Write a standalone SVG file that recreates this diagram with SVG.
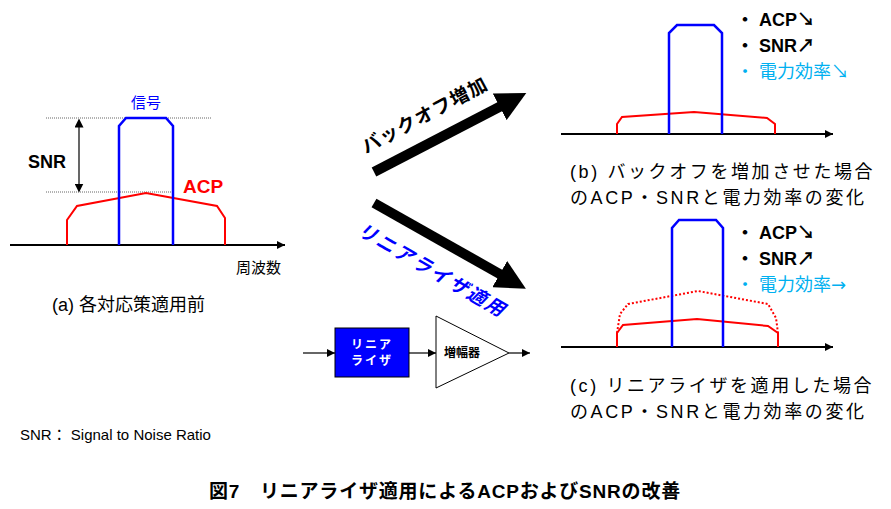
<svg xmlns="http://www.w3.org/2000/svg" width="891" height="509" viewBox="0 0 891 509">
<defs>
<marker id="ah" viewBox="0 0 10 10" refX="10" refY="5" markerWidth="8" markerHeight="8" markerUnits="userSpaceOnUse" orient="auto"><path d="M0,0L10,5L0,10z" fill="#000"/></marker>
<marker id="ah2" viewBox="0 0 10 10" refX="5" refY="5" markerWidth="9" markerHeight="9" markerUnits="userSpaceOnUse" orient="auto-start-reverse"><path d="M0,0L10,5L0,10z" fill="#000"/></marker>
<marker id="big" viewBox="0 0 10 10" refX="2" refY="5" markerWidth="30" markerHeight="30" markerUnits="userSpaceOnUse" orient="auto"><path d="M0,0L10,5L0,10z" fill="#000"/></marker>
</defs>
<style>
text{font-family:"Liberation Sans","Noto Sans CJK JP",sans-serif;}
.ax{stroke:#000;stroke-width:2;fill:none}
.sig{stroke:#0000ff;stroke-width:2.5;fill:none}
.acp{stroke:#ff0000;stroke-width:2;fill:none}
.b{font-weight:bold}
.t{font-size:18px}
.cap{font-size:18px;fill:#000;letter-spacing:2.6px}
.cy{fill:#00b0f0}
</style>
<rect width="891" height="509" fill="#fff"/>
<g id="panel-a">
<line x1="10" y1="245" x2="285" y2="245" class="ax" marker-end="url(#ah)"/>
<line x1="46" y1="118" x2="212" y2="118" stroke="#666" stroke-width="1" stroke-dasharray="1,1"/>
<line x1="46" y1="192" x2="173" y2="192" stroke="#666" stroke-width="1" stroke-dasharray="1,1"/>
<line x1="79" y1="123" x2="79" y2="188" stroke="#000" stroke-width="1.2" marker-start="url(#ah2)" marker-end="url(#ah2)"/>
<polyline class="acp" points="67,245 67,220 77,206 146,193 217,206 225,218 225,245"/>
<polyline class="sig" points="119,245 119,126 126,118 166,118 173,126 173,245"/>
<text x="28" y="168" class="t b">SNR</text>
<text x="183" y="193" class="b" font-size="19" fill="#ff0000">ACP</text>
<text x="146" y="108" font-size="15" fill="#0000ff" text-anchor="middle">信号</text>
<text x="236" y="273" font-size="15">周波数</text>
<text x="52" y="311" font-size="18">(a) 各対応策適用前</text>
</g>
<g id="panel-b">
<line x1="561" y1="134" x2="833" y2="134" class="ax" marker-end="url(#ah)"/>
<polyline class="acp" points="617,134 617,124 622,117 694,112 767,118 775,124 775,134"/>
<polyline class="sig" points="669,134 669,33 677,25 714,25 722,33 722,134"/>
<text x="736" y="26" class="t b">・ ACP↘</text>
<text x="736" y="52" class="t b">・ SNR↗</text>
<text x="736" y="78" class="t cy">・ 電力効率↘</text>
<text x="570" y="178" class="cap">(b) バックオフを増加させた場合</text>
<text x="570" y="204" class="cap">のACP・SNRと電力効率の変化</text>
</g>
<g id="panel-c">
<line x1="561" y1="347" x2="833" y2="347" class="ax" marker-end="url(#ah)"/>
<polyline points="617,333 620,314 628,304 698,291 768,304 776,318 778,333" stroke="#ff0000" stroke-width="2" stroke-dasharray="2,2" fill="none"/>
<polyline class="acp" points="617,347 617,333 623,325 697,319 768,326 778,333 778,347"/>
<polyline class="sig" points="672,347 672,228 679,220 716,220 723,228 723,347"/>
<text x="736" y="239" class="t b">・ ACP↘</text>
<text x="736" y="265" class="t b">・ SNR↗</text>
<text x="736" y="291" class="t cy">・ 電力効率<tspan font-family="DejaVu Sans">→</tspan></text>
<text x="570" y="392" class="cap">(c) リニアライザを適用した場合</text>
<text x="570" y="418" class="cap">のACP・SNRと電力効率の変化</text>
</g>
<g id="connectors">
<line x1="374" y1="172" x2="505" y2="104" stroke="#000" stroke-width="10" marker-end="url(#big)"/>
<line x1="374" y1="203" x2="505" y2="277" stroke="#000" stroke-width="10" marker-end="url(#big)"/>
<line x1="303" y1="353" x2="335" y2="353" stroke="#000" stroke-width="1.2" marker-end="url(#ah)"/>
<line x1="409" y1="353" x2="436" y2="353" stroke="#000" stroke-width="1.2" marker-end="url(#ah)"/>
<line x1="509" y1="353" x2="530" y2="353" stroke="#000" stroke-width="1.2" marker-end="url(#ah)"/>
</g>
<g id="label-backoff"><text transform="translate(366,154) rotate(-28)" font-size="19" class="b" letter-spacing="1">バックオフ増加</text></g>
<g id="label-linearizer"><text transform="translate(356,234) rotate(30)" font-size="19" class="b" fill="#0000ff" font-style="italic" letter-spacing="2">リニアライザ適用</text></g>
<g id="linearizer">
<rect x="335" y="328" width="74" height="49" fill="#0000ff" stroke="#000" stroke-width="1"/>
<text x="372" y="349" font-size="12" fill="#fff" class="b" text-anchor="middle" letter-spacing="2">リニア</text>
<text x="372" y="365" font-size="12" fill="#fff" class="b" text-anchor="middle" letter-spacing="2">ライザ</text>
</g>
<g id="amplifier">
<polygon points="436,316 436,388 509,353" fill="#fff" stroke="#000" stroke-width="1"/>
<text x="444" y="357" font-size="12" class="b">増幅器</text>
</g>
<text x="20" y="440" font-size="15">SNR： Signal to Noise Ratio</text>
<text x="445" y="498" font-size="19" class="b" text-anchor="middle" letter-spacing="0.8">図7　リニアライザ適用によるACPおよびSNRの改善</text>
</svg>
